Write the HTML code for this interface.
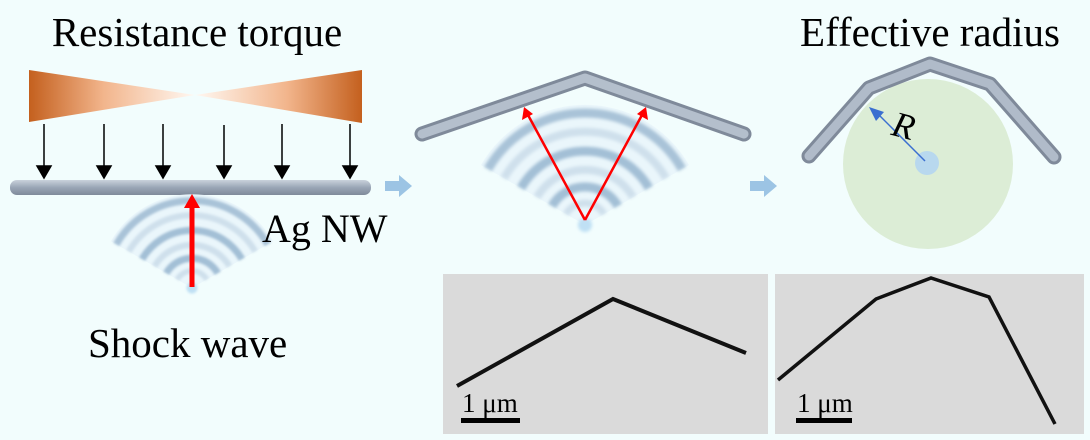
<!DOCTYPE html>
<html><head><meta charset="utf-8"><style>
html,body{margin:0;padding:0;background:#f2fdfd;}
svg{display:block;}
text{font-family:"Liberation Serif",serif;fill:#000;}
</style></head><body>
<svg width="1090" height="440" viewBox="0 0 1090 440">
<defs>
<linearGradient id="gl" x1="0" x2="1" y1="0" y2="0"><stop offset="0" stop-color="#c4601e"/><stop offset="0.45" stop-color="#f2b58c"/><stop offset="1" stop-color="#fff8f2"/></linearGradient>
<linearGradient id="gr" x1="1" x2="0" y1="0" y2="0"><stop offset="0" stop-color="#c4601e"/><stop offset="0.45" stop-color="#f2b58c"/><stop offset="1" stop-color="#fff8f2"/></linearGradient>
<linearGradient id="rod" x1="0" x2="0" y1="0" y2="1"><stop offset="0" stop-color="#c9d2dc"/><stop offset="0.5" stop-color="#9aa6b6"/><stop offset="1" stop-color="#7f8a9a"/></linearGradient>
<filter id="bl" x="-20%" y="-20%" width="140%" height="140%"><feGaussianBlur stdDeviation="1.6"/></filter>
<g id="wave">
<path d="M0,0 L-104,-60 A120,120 0 0 1 104,-60 Z" fill="#eaf6fb"/>
<g fill="none" filter="url(#bl)">
<path d="M-97,-56 A112,112 0 0 1 97,-56" stroke="#a9c3d8" stroke-width="9"/>
<path d="M-81,-47 A94,94 0 0 1 81,-47" stroke="#cfe0ec" stroke-width="8"/>
<path d="M-64,-37 A74,74 0 0 1 64,-37" stroke="#a3bfd6" stroke-width="9"/>
<path d="M-48,-28 A56,56 0 0 1 48,-28" stroke="#cfe0ec" stroke-width="8"/>
<path d="M-33,-19 A38,38 0 0 1 33,-19" stroke="#a3bfd6" stroke-width="9"/>
<path d="M-19,-11 A22,22 0 0 1 19,-11" stroke="#cfe0ec" stroke-width="7"/>
</g>
<circle cx="0" cy="0" r="7" fill="#bfe0f4" filter="url(#bl)"/>
</g>
</defs>

<text x="197" y="46" font-size="41" text-anchor="middle">Resistance torque</text>
<polygon points="29,70 195,95 29,122" fill="url(#gl)"/>
<polygon points="362,70 195,95 362,123" fill="url(#gr)"/>
<g stroke="#000" stroke-width="1.5">
<line x1="44" y1="124" x2="44" y2="170"/><polygon points="37,166 51,166 44,178" fill="#000"/>
<line x1="104" y1="124" x2="104" y2="170"/><polygon points="97,166 111,166 104,178" fill="#000"/>
<line x1="163" y1="124" x2="163" y2="170"/><polygon points="156,166 170,166 163,178" fill="#000"/>
<line x1="224" y1="125" x2="224" y2="170"/><polygon points="217,166 231,166 224,178" fill="#000"/>
<line x1="282" y1="124" x2="282" y2="170"/><polygon points="275,166 289,166 282,178" fill="#000"/>
<line x1="350" y1="124" x2="350" y2="170"/><polygon points="343,166 357,166 350,178" fill="#000"/>
</g>
<rect x="10" y="180" width="361" height="15" rx="7" fill="url(#rod)"/>
<use href="#wave" transform="translate(192,288) scale(0.78)"/>
<line x1="192" y1="287" x2="192" y2="205" stroke="#f00" stroke-width="5"/>
<polygon points="184,208 200,208 192,194" fill="#f00"/>
<text x="262" y="242" font-size="40">Ag NW</text>
<text x="88" y="357" font-size="41">Shock wave</text>

<g fill="#9cc4e4"><rect x="385" y="181" width="14" height="10"/><polygon points="399,175 412,186 399,197"/></g>
<g fill="#9cc4e4"><rect x="750" y="181" width="14" height="10"/><polygon points="764,175 777,186 764,197"/></g>

<use href="#wave" x="585" y="225"/>
<polyline points="422,134 585,78 744,134" fill="none" stroke="#7f8a9a" stroke-width="15" stroke-linecap="round" stroke-linejoin="round"/>
<polyline points="422,134 585,78 744,134" fill="none" stroke="#b4bfcc" stroke-width="9" stroke-linecap="round" stroke-linejoin="round"/>
<line x1="585" y1="220" x2="528" y2="115" stroke="#f00" stroke-width="2.5"/>
<polygon points="524,107 522,120 533,114" fill="#f00"/>
<line x1="585" y1="220" x2="642" y2="115" stroke="#f00" stroke-width="2.5"/>
<polygon points="646,107 648,120 637,114" fill="#f00"/>

<text x="930" y="46" font-size="41" text-anchor="middle">Effective radius</text>
<circle cx="928" cy="164" r="85" fill="#dcedd6"/>
<circle cx="927" cy="163" r="12" fill="#b8d8ee"/>
<polyline points="809,156 869,88 930,64 990,84 1054,157" fill="none" stroke="#7f8a9a" stroke-width="15" stroke-linecap="round" stroke-linejoin="round"/>
<polyline points="809,156 869,88 930,64 990,84 1054,157" fill="none" stroke="#b0bbc9" stroke-width="9" stroke-linecap="round" stroke-linejoin="round"/>
<line x1="925" y1="161" x2="878" y2="114" stroke="#3b6fd0" stroke-width="1.5"/>
<polygon points="869,107 884,112 876,121" fill="#3b6fd0"/>
<text x="893" y="138" font-size="36" font-style="italic" transform="rotate(15 905 125)">R</text>

<g>
<rect x="443" y="274" width="325" height="160" fill="#dadada"/>
<polyline points="457,386 613,299 746,353" fill="none" stroke="#111" stroke-width="4"/>
<text x="462" y="412" font-size="27">1 μm</text>
<rect x="461" y="418" width="59" height="5" fill="#000"/>
</g>
<g>
<rect x="775" y="274" width="309" height="160" fill="#dadada"/>
<polyline points="778,380 876,299 931,278 989,297 1055,424" fill="none" stroke="#111" stroke-width="3.5"/>
<text x="797" y="412" font-size="27">1 μm</text>
<rect x="796" y="418" width="56" height="5" fill="#000"/>
</g>
</svg>
</body></html>
